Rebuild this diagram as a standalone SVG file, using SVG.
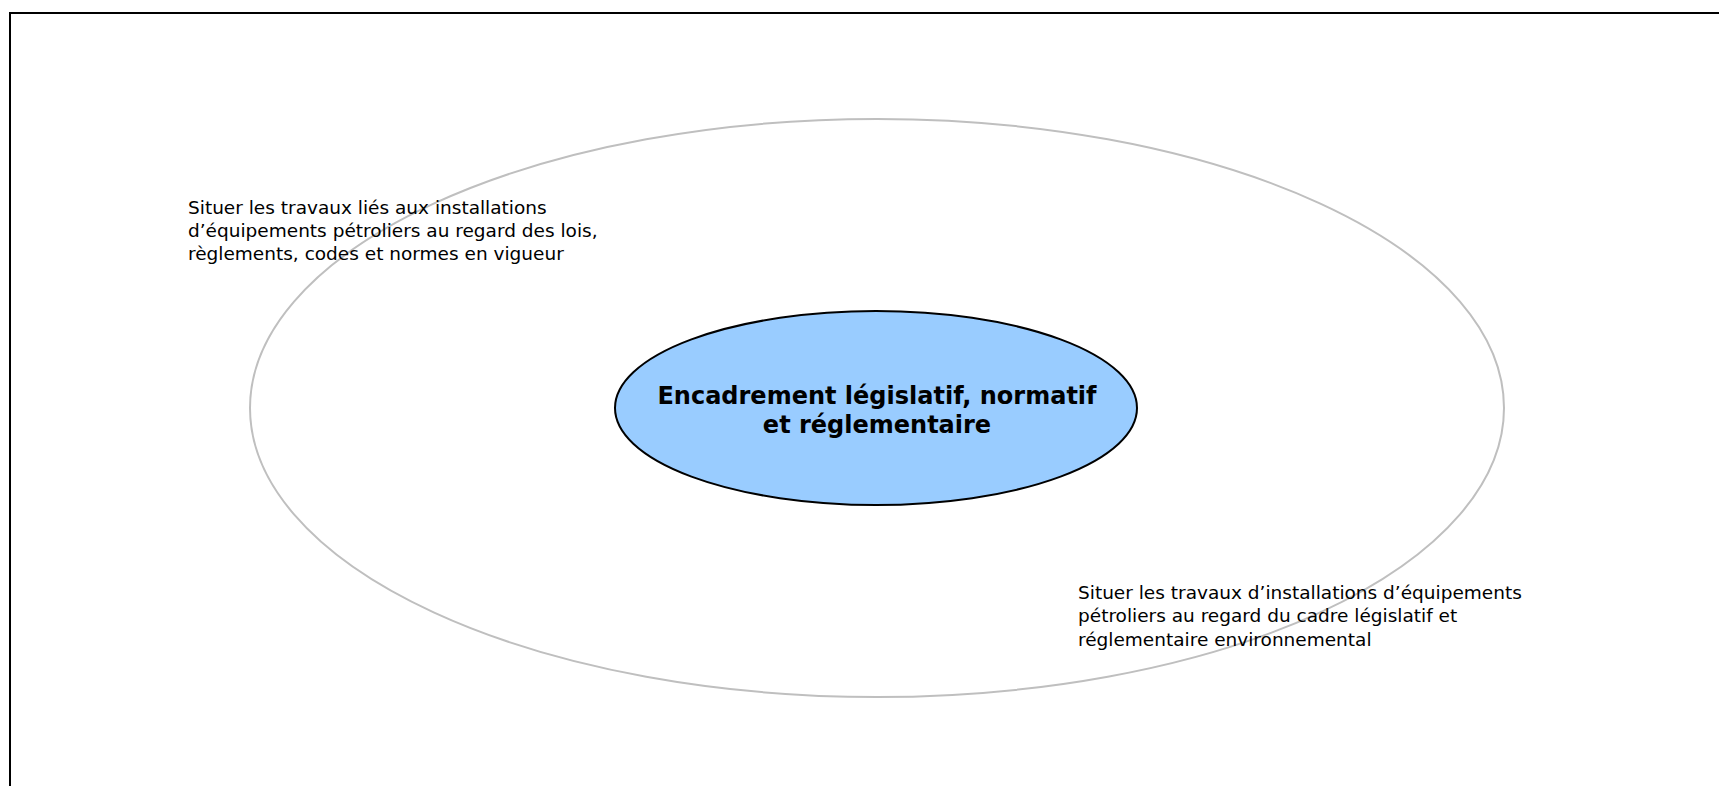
<svg xmlns="http://www.w3.org/2000/svg" width="1719" height="786" viewBox="0 0 1719 786">
<style>
.lbl{font-family:"DejaVu Sans","Verdana",sans-serif;font-size:18.5px;fill:#000}
.core{font-family:"DejaVu Sans","Verdana",sans-serif;font-size:24px;font-weight:bold;fill:#000;text-anchor:middle}
</style>
<rect width="1719" height="786" fill="#fff"/>
<path id="frame" d="M10,800 V13 H1730" fill="none" stroke="#000" stroke-width="2"/>
<g id="outer">
<ellipse cx="877" cy="408" rx="627" ry="289" fill="none" stroke="#bfbfbf" stroke-width="2"/>
</g>
<g id="connectors"></g>
<g id="center">
<ellipse cx="876" cy="408" rx="261" ry="97" fill="#99ccff" stroke="#000" stroke-width="2"/>
<text class="core" x="877" y="404">Encadrement législatif, normatif</text>
<text class="core" x="877" y="433">et réglementaire</text>
</g>
<g id="label-top">
<text class="lbl" x="188" y="214">Situer les travaux liés aux installations</text>
<text class="lbl" x="188" y="237">d’équipements pétroliers au regard des lois,</text>
<text class="lbl" x="188" y="260">règlements, codes et normes en vigueur</text>
</g>
<g id="label-bottom">
<text class="lbl" x="1078" y="599">Situer les travaux d’installations d’équipements</text>
<text class="lbl" x="1078" y="622">pétroliers au regard du cadre législatif et</text>
<text class="lbl" x="1078" y="646">réglementaire environnemental</text>
</g>
</svg>
